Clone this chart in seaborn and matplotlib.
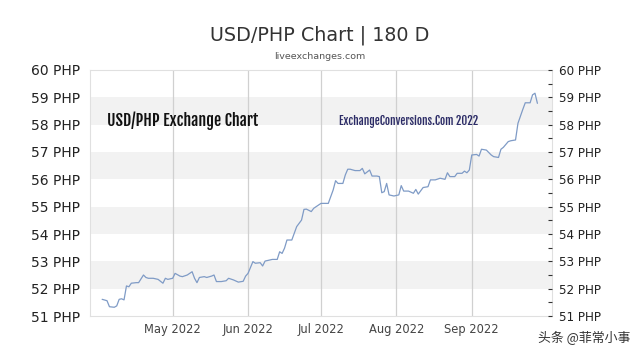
import pandas as pd
import seaborn as sns
import matplotlib.dates as mdates
from matplotlib import pyplot as plt
from matplotlib.ticker import MultipleLocator, FuncFormatter

# USD/PHP rate
dates = [
    "2022-04-02", "2022-04-04", "2022-04-05", "2022-04-07", "2022-04-08", "2022-04-09",
    "2022-04-10", "2022-04-11", "2022-04-12", "2022-04-13", "2022-04-14", "2022-04-16",
    "2022-04-17", "2022-04-19", "2022-04-20", "2022-04-21", "2022-04-23", "2022-04-25",
    "2022-04-27", "2022-04-28", "2022-04-29", "2022-05-01", "2022-05-02", "2022-05-04",
    "2022-05-05", "2022-05-07", "2022-05-09", "2022-05-10", "2022-05-11", "2022-05-12",
    "2022-05-14", "2022-05-15", "2022-05-17", "2022-05-18", "2022-05-19", "2022-05-21",
    "2022-05-23", "2022-05-24", "2022-05-26", "2022-05-28", "2022-05-30", "2022-05-31",
    "2022-06-01", "2022-06-03", "2022-06-04", "2022-06-06", "2022-06-07", "2022-06-08",
    "2022-06-10", "2022-06-11", "2022-06-13", "2022-06-14", "2022-06-15", "2022-06-16",
    "2022-06-17", "2022-06-19", "2022-06-20", "2022-06-21", "2022-06-23", "2022-06-24",
    "2022-06-25", "2022-06-27", "2022-06-28", "2022-06-30", "2022-07-01", "2022-07-03",
    "2022-07-04", "2022-07-06", "2022-07-07", "2022-07-08", "2022-07-10", "2022-07-11",
    "2022-07-12", "2022-07-13", "2022-07-15", "2022-07-17", "2022-07-18", "2022-07-19",
    "2022-07-21", "2022-07-22", "2022-07-24", "2022-07-25", "2022-07-26", "2022-07-27",
    "2022-07-28", "2022-07-29", "2022-07-31", "2022-08-02", "2022-08-03", "2022-08-04",
    "2022-08-06", "2022-08-08", "2022-08-09", "2022-08-10", "2022-08-12", "2022-08-14",
    "2022-08-15", "2022-08-17", "2022-08-19", "2022-08-21", "2022-08-22", "2022-08-23",
    "2022-08-25", "2022-08-26", "2022-08-28", "2022-08-29", "2022-08-30", "2022-08-31",
    "2022-09-01", "2022-09-03", "2022-09-04", "2022-09-05", "2022-09-07", "2022-09-09",
    "2022-09-10", "2022-09-12", "2022-09-13", "2022-09-14", "2022-09-16", "2022-09-17",
    "2022-09-19", "2022-09-20", "2022-09-22", "2022-09-23", "2022-09-25", "2022-09-26",
    "2022-09-27", "2022-09-28",
]
rates = [
    51.61, 51.56, 51.34, 51.32, 51.37, 51.61,
    51.63, 51.59, 52.10, 52.07, 52.20, 52.22,
    52.22, 52.50, 52.41, 52.38, 52.38, 52.34,
    52.20, 52.38, 52.34, 52.38, 52.56, 52.46,
    52.44, 52.50, 52.62, 52.38, 52.22, 52.41,
    52.44, 52.41, 52.46, 52.50, 52.26, 52.26,
    52.29, 52.38, 52.32, 52.24, 52.27, 52.46,
    52.56, 52.99, 52.93, 52.95, 52.83, 53.01,
    53.05, 53.07, 53.07, 53.35, 53.29, 53.48,
    53.78, 53.78, 54.02, 54.27, 54.51, 54.90,
    54.91, 54.82, 54.94, 55.06, 55.12, 55.12,
    55.12, 55.61, 55.95, 55.85, 55.85, 56.16,
    56.37, 56.37, 56.32, 56.32, 56.40, 56.20,
    56.34, 56.12, 56.12, 56.10, 55.51, 55.55,
    55.85, 55.43, 55.39, 55.43, 55.77, 55.57,
    55.57, 55.49, 55.63, 55.46, 55.70, 55.73,
    55.98, 55.98, 56.04, 56.00, 56.24, 56.10,
    56.10, 56.22, 56.22, 56.30, 56.24, 56.34,
    56.89, 56.91, 56.85, 57.10, 57.07, 56.89,
    56.83, 56.80, 57.10, 57.17, 57.38, 57.41,
    57.44, 58.05, 58.56, 58.80, 58.80, 59.09,
    59.15, 58.78,
]
band_starts = [52, 54, 56, 58]
month_ticks = ["2022-05-01", "2022-06-01", "2022-07-01", "2022-08-01", "2022-09-01"]

df = pd.DataFrame({"date": pd.to_datetime(dates), "rate": rates})

sns.set_style("white")
plt.rcParams["font.family"] = ["DejaVu Sans", "Noto Sans CJK SC"]

fig = plt.figure(figsize=(6.4, 3.6), dpi=100)
ax = fig.add_axes([0.1406, 0.1222, 0.7219, 0.6834])

for b in band_starts:
    ax.axhspan(b, b + 1, color="#f2f2f2", zorder=0, lw=0)
for m in month_ticks:
    ax.axvline(pd.Timestamp(m), color="#d0d0d0", lw=0.9, zorder=1)

sns.lineplot(data=df, x="date", y="rate", ax=ax, color="#7f9bc6", lw=0.9, zorder=3)

ax.set_xlim(pd.Timestamp("2022-03-28"), pd.Timestamp("2022-10-04"))
ax.set_ylim(51, 60)
ax.set_xlabel("")
ax.set_ylabel("")
ax.set_xticks(pd.to_datetime(month_ticks))
ax.xaxis.set_major_formatter(mdates.DateFormatter("%b %Y"))
ax.yaxis.set_major_locator(MultipleLocator(1))
fmt = FuncFormatter(lambda v, _: f"{v:.0f} PHP")
ax.yaxis.set_major_formatter(fmt)
ax.tick_params(axis="x", length=0, pad=5, labelsize=8.3, labelcolor="#444444")
ax.tick_params(axis="y", length=0, pad=7, labelsize=10, labelcolor="#222222")
for s in ax.spines.values():
    s.set_color("#e0e0e0")
    s.set_linewidth(0.8)

ax2 = ax.twinx()
ax2.set_ylim(51, 60)
ax2.yaxis.set_major_locator(MultipleLocator(1))
ax2.yaxis.set_minor_locator(MultipleLocator(0.5))
ax2.yaxis.set_major_formatter(fmt)
ax2.tick_params(axis="y", which="both", direction="in", length=3, width=0.8,
                color="#333333", pad=5, labelsize=9.5, labelcolor="#222222")
for lbl in ax2.get_yticklabels():
    lbl.set_fontstretch("condensed")
for s in ax2.spines.values():
    s.set_visible(False)

fig.text(0.5, 0.902, "USD/PHP Chart | 180 D", ha="center", va="center",
         fontsize=13.8, color="#333333")
fig.text(0.5, 0.842, "liveexchanges.com", ha="center", va="center",
         fontsize=6.8, color="#555555")

ax.text(0.037, 0.795, "USD/PHP Exchange Chart", transform=ax.transAxes,
        fontsize=11.5, color="#111111", va="center",
        family=["Fjalla One", "Oswald", "DejaVu Sans"], zorder=4)
ax.text(0.538, 0.792, "ExchangeConversions.Com 2022", transform=ax.transAxes,
        fontsize=8.1, color="#2b2b66", va="center",
        family=["Fjalla One", "Oswald", "DejaVu Sans"], zorder=4)

fig.text(0.985, 0.06, "头条 @菲常小事", ha="right", va="center", fontsize=9.3,
         color="#333333", family=["Noto Sans CJK SC", "DejaVu Sans"])

fig.savefig("out.png", dpi=100)
